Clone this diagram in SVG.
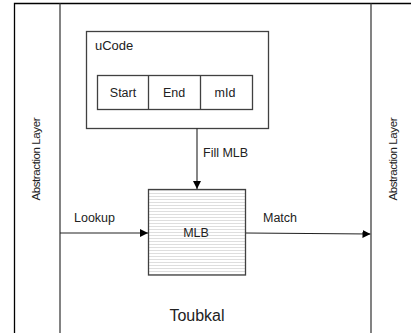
<svg xmlns="http://www.w3.org/2000/svg" width="411" height="333" viewBox="0 0 411 333">
<style>
text{font-family:"Liberation Sans",Arial,sans-serif;fill:#222;}
.frame{stroke:#000;stroke-width:1.3;fill:none;}
.box{stroke:#404040;stroke-width:1.3;fill:#fff;}
.conn{stroke:#222;stroke-width:1.1;fill:none;}
</style>
<defs>
<marker id="ah" markerWidth="8" markerHeight="8" refX="8" refY="4" orient="auto" markerUnits="userSpaceOnUse">
<path d="M0,0 L8,4 L0,8 Z" fill="#000"/>
</marker>
<pattern id="hatch" width="6" height="3" patternUnits="userSpaceOnUse">
<rect width="6" height="3" fill="#fff"/>
<line x1="0" y1="1.5" x2="6" y2="1.5" stroke="#d6d6d6" stroke-width="0.8"/>
</pattern>
</defs>
<rect width="411" height="333" fill="#fff"/>
<g id="frame">
<path class="frame" d="M14.5,333 V3.5 H411"/>
<line x1="60" y1="3.5" x2="60" y2="333" stroke="#404040" stroke-width="1.3"/>
<line x1="371" y1="3.5" x2="371" y2="333" stroke="#404040" stroke-width="1.3"/>
<text x="197" y="321" font-size="16" text-anchor="middle">Toubkal</text>
</g>
<g id="abstraction-left">
<text transform="translate(40,159) rotate(-90)" font-size="11.5" text-anchor="middle" textLength="83">Abstraction Layer</text>
</g>
<g id="abstraction-right">
<text transform="translate(397,159) rotate(-90)" font-size="11.5" text-anchor="middle" textLength="83">Abstraction Layer</text>
</g>
<g id="ucode">
<rect class="box" x="86.5" y="31.5" width="182" height="97"/>
<text x="95" y="50" font-size="13">uCode</text>
<rect class="box" x="97.5" y="75.5" width="155" height="34"/>
<line x1="148.5" y1="75.5" x2="148.5" y2="109.5" stroke="#404040" stroke-width="1.3"/>
<line x1="200.5" y1="75.5" x2="200.5" y2="109.5" stroke="#404040" stroke-width="1.3"/>
<text x="123" y="97" font-size="12.5" text-anchor="middle">Start</text>
<text x="174" y="97" font-size="12.5" text-anchor="middle">End</text>
<text x="225" y="97" font-size="12.5" text-anchor="middle">mId</text>
</g>
<g id="mlb">
<rect x="148.5" y="189.5" width="97" height="85.5" fill="url(#hatch)" stroke="#404040" stroke-width="1.3"/>
<text x="196" y="237" font-size="12.5" text-anchor="middle">MLB</text>
</g>
<g id="connectors">
<line class="conn" x1="197" y1="128.5" x2="197" y2="189" marker-end="url(#ah)"/>
<text x="203" y="157" font-size="12.5">Fill MLB</text>
<line class="conn" x1="60" y1="233" x2="148" y2="233" marker-end="url(#ah)"/>
<text x="74" y="222" font-size="12.5">Lookup</text>
<line class="conn" x1="246" y1="233" x2="370.5" y2="234" marker-end="url(#ah)"/>
<text x="263" y="222" font-size="12.5">Match</text>
</g>
</svg>
